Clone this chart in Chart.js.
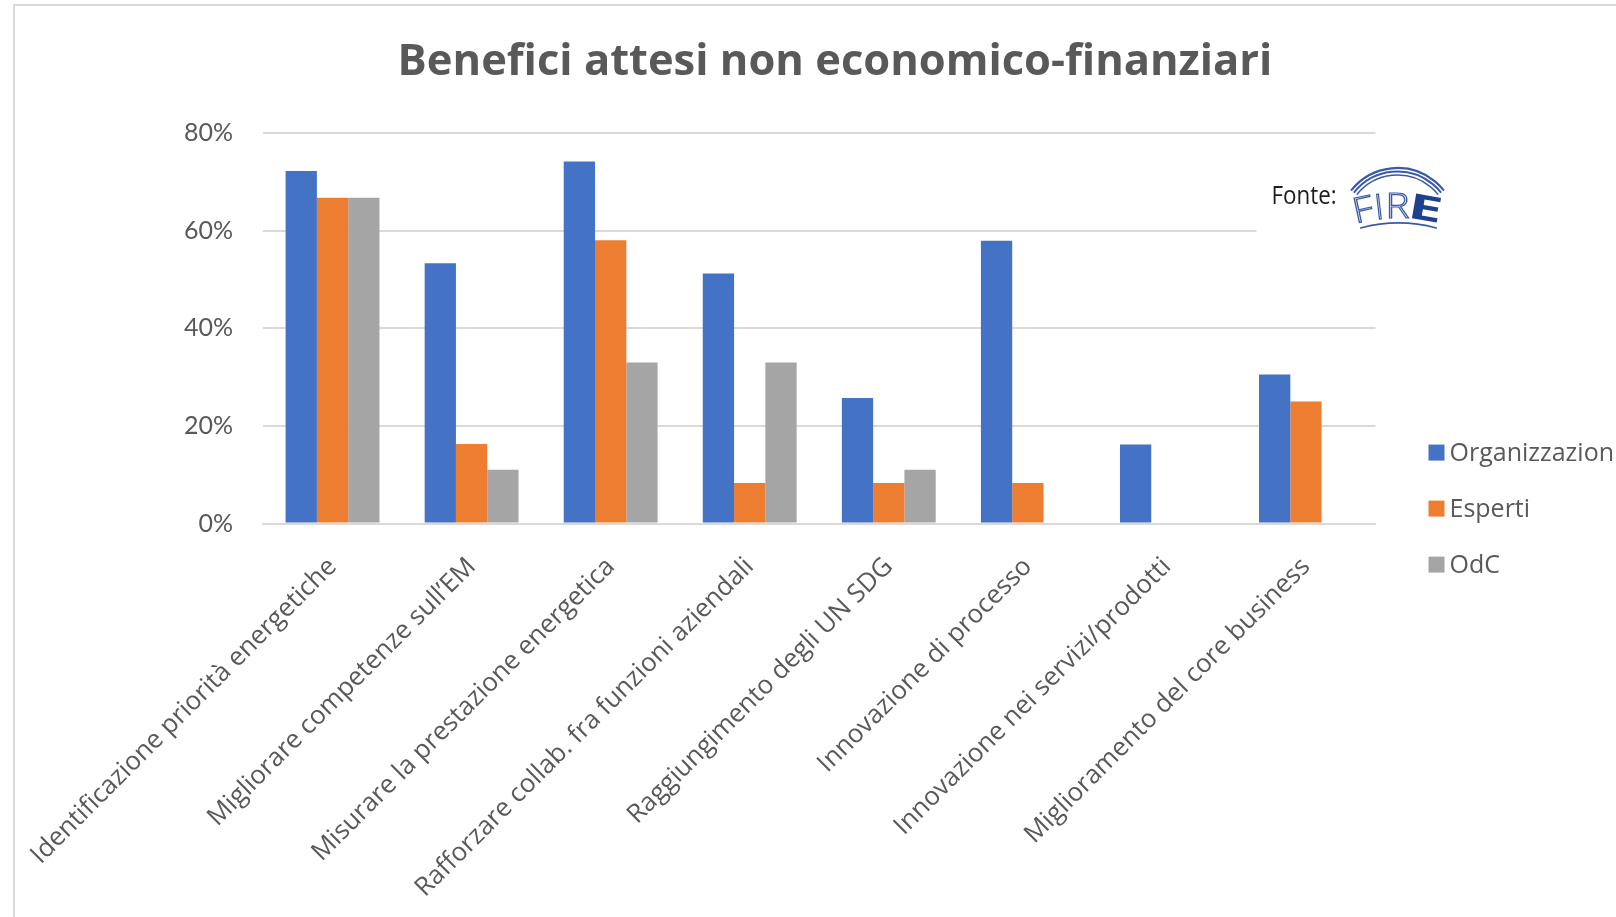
<!DOCTYPE html>
<html>
<head>
<meta charset="utf-8">
<script src="https://cdn.jsdelivr.net/npm/chart.js@4.4.1/dist/chart.umd.min.js"></script>
<style>
  html, body { margin: 0; padding: 0; background: #fff; overflow: hidden; width: 1616px; height: 917px; }
  #frame { position: absolute; left: 13px; top: 4px; width: 1640px; height: 911px;
           border-left: 2px solid #d9d9d9; border-top: 2px solid #d9d9d9; }
  canvas { display: block; }
</style>
</head>
<body>
<div id="frame"><canvas id="chart" width="1640" height="911"></canvas></div>
<script>
// Categories on the horizontal axis
const categories = [
  'Identificazione priorità energetiche',
  'Migliorare competenze sull’EM',
  'Misurare la prestazione energetica',
  'Rafforzare collab. fra funzioni aziendali',
  'Raggiungimento degli UN SDG',
  'Innovazione di processo',
  'Innovazione nei servizi/prodotti',
  'Miglioramento del core business'
];

// Share of respondents (%) per group
const organizzazioni = [72.2, 53.3, 74.1, 51.2, 25.7, 57.9, 16.2, 30.5];
const esperti        = [66.7, 16.3, 58.0, 8.3, 8.3, 8.3, null, 25.0];
const odc            = [66.7, 11.0, 33.0, 33.0, 11.0, null, null, null];

const seriesNames = ['Organizzazioni', 'Esperti', 'OdC'];
const seriesColors = ['#4472C4', '#ED7D31', '#A5A5A5'];

// Value axis ticks
const yTicks = [0, 20, 40, 60, 80];

const TEXT = '#595959';
const FONT = 'Lato, "Open Sans", sans-serif';
const FONT_WIDE = '"Open Sans", Lato, sans-serif';

// Legend drawn to the right of the plot, lower half
const sideLegend = {
  id: 'sideLegend',
  afterDraw(chart) {
    const { ctx, chartArea } = chart;
    ctx.save();
    ctx.font = '25px ' + FONT_WIDE;
    ctx.textBaseline = 'middle';
    ctx.textAlign = 'left';
    chart.data.datasets.forEach((ds, i) => {
      const x = chartArea.right + 53;
      const y = chartArea.bottom - 71 + i * 56;
      ctx.fillStyle = ds.backgroundColor;
      ctx.fillRect(x, y - 8, 16, 16);
      ctx.fillStyle = TEXT;
      ctx.fillText(ds.label, x + 21, y + 1);
    });
    ctx.restore();
  }
};

// "Fonte: FIRE" source mark in the upper right corner of the plot
const sourceMark = {
  id: 'sourceMark',
  afterDraw(chart) {
    const { ctx, chartArea } = chart;
    const left = chartArea.right - 119;
    ctx.save();
    ctx.fillStyle = '#ffffff';
    ctx.fillRect(left, 150, 150, 90);

    // condensed caption
    ctx.save();
    ctx.translate(left + 15, 198);
    ctx.scale(0.86, 1);
    ctx.fillStyle = '#1e1e1e';
    ctx.font = '26px ' + FONT_WIDE;
    ctx.textBaseline = 'alphabetic';
    ctx.textAlign = 'left';
    ctx.fillText('Fonte:', 0, 0);
    ctx.restore();

    // logo: three arcs above the lettering, one below
    const lx = left + 141;
    ctx.lineCap = 'round';
    ctx.strokeStyle = '#3a5aa8';
    [[59, 2.2], [55.5, 2.0], [52, 1.4]].forEach(([r, w]) => {
      ctx.lineWidth = w;
      ctx.beginPath();
      ctx.arc(lx, 162 + 59, r, -Math.PI / 2 - 0.89, -Math.PI / 2 + 0.89);
      ctx.stroke();
    });
    ctx.lineWidth = 1.6;
    ctx.beginPath();
    ctx.arc(lx + 1, 217 + 147, 147, -Math.PI / 2 - 0.26, -Math.PI / 2 + 0.26);
    ctx.stroke();

    // letters set along a gentle arch
    const letters = [
      { ch: 'F', dx: -32, sx: 1.15, bold: false },
      { ch: 'I', dx: -17, sx: 1.0, bold: false },
      { ch: 'R', dx: 0, sx: 1.15, bold: false },
      { ch: 'E', dx: 26, sx: 1.75, bold: true }
    ];
    const rc = 150, cy = 212 + rc;
    letters.forEach(l => {
      const a = Math.asin(l.dx / rc);
      ctx.save();
      ctx.translate(lx, cy);
      ctx.rotate(a);
      ctx.translate(0, -rc);
      ctx.scale(l.sx, 1);
      ctx.textAlign = 'center';
      ctx.textBaseline = 'alphabetic';
      if (l.bold) {
        ctx.font = 'bold 35px ' + FONT_WIDE;
        ctx.fillStyle = '#1f3f8f';
        ctx.fillText(l.ch, 0, 0);
      } else {
        ctx.font = '300 35px ' + FONT_WIDE;
        ctx.strokeStyle = '#3a5aa8';
        ctx.lineWidth = 1.2;
        ctx.strokeText(l.ch, 0, 0);
      }
      ctx.restore();
    });
    ctx.restore();
  }
};

const datasets = [organizzazioni, esperti, odc].map((values, i) => ({
  label: seriesNames[i],
  data: values,
  backgroundColor: seriesColors[i],
  borderWidth: 0,
  categoryPercentage: 0.675,
  barPercentage: 1.0
}));

new Chart(document.getElementById('chart'), {
  type: 'bar',
  data: { labels: categories, datasets },
  options: {
    responsive: false,
    animation: false,
    layout: { padding: 0 },
    plugins: {
      legend: { display: false },
      tooltip: { enabled: false },
      title: {
        display: true,
        text: 'Benefici attesi non economico-finanziari',
        color: TEXT,
        font: { family: FONT_WIDE, size: 43.5, weight: 'bold', lineHeight: 1.2 },
        padding: { top: 31, bottom: 43.6 }
      }
    },
    scales: {
      x: {
        grid: { display: false },
        border: { display: true, color: '#d9d9d9', width: 2 },
        ticks: {
          autoSkip: false, minRotation: 45, maxRotation: 45,
          color: TEXT, font: { family: FONT_WIDE, size: 25.8 }, padding: 20
        },
        afterFit(axis) { axis.height = 393.4; axis.paddingLeft = 0; axis.paddingRight = 0; }
      },
      y: {
        min: yTicks[0], max: yTicks[yTicks.length - 1],
        grid: { color: '#d9d9d9', lineWidth: 2, drawTicks: false },
        border: { display: false },
        afterBuildTicks(axis) { axis.ticks = yTicks.map(v => ({ value: v })); },
        ticks: {
          color: TEXT, font: { family: FONT, size: 25 }, padding: 30,
          callback: v => v + '%'
        },
        afterFit(axis) { axis.width = 248; }
      },
      side: {
        position: 'right',
        display: true,
        min: 0, max: 1,
        grid: { display: false },
        border: { display: false },
        ticks: { display: false },
        afterFit(axis) { axis.width = 279.5; }
      }
    }
  },
  plugins: [sideLegend, sourceMark]
});
</script>
</body>
</html>
